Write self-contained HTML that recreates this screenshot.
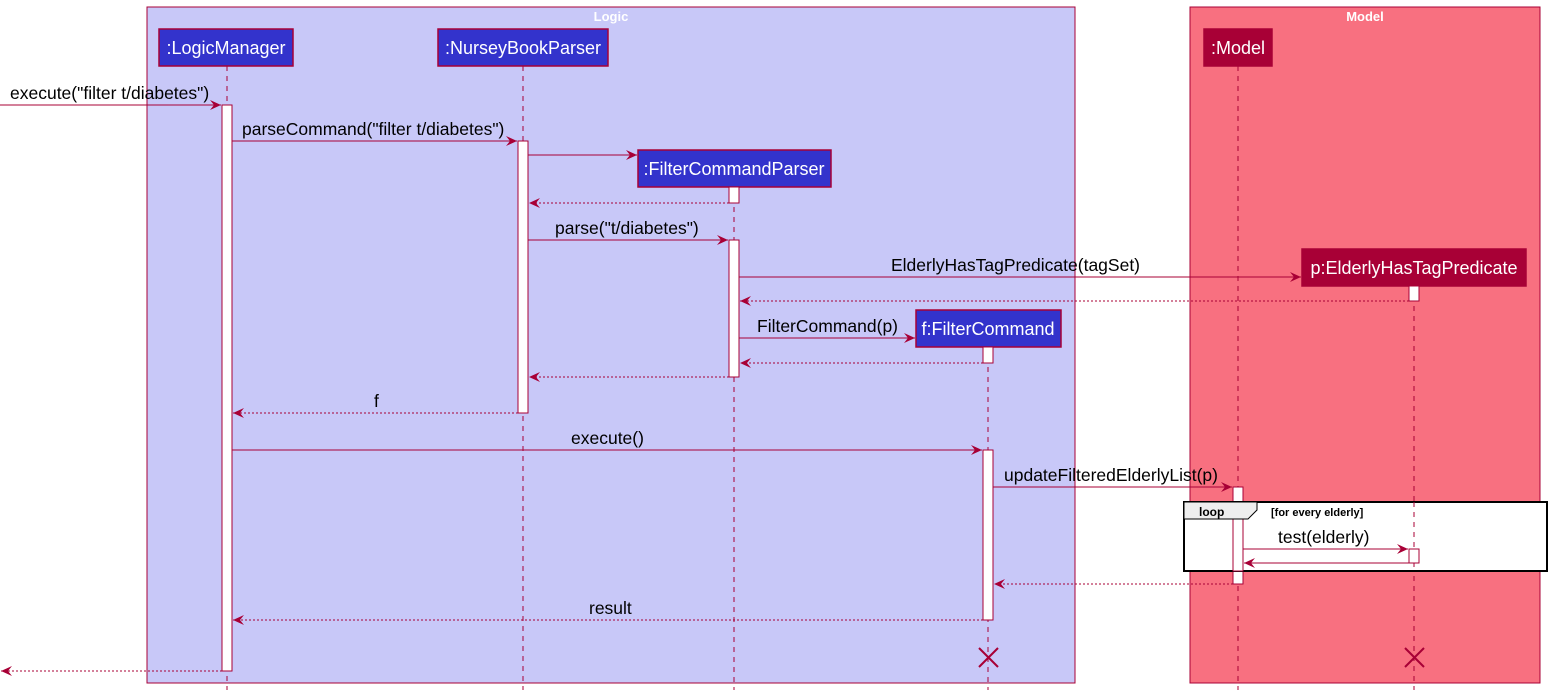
<!DOCTYPE html>
<html><head><meta charset="utf-8"><style>
html,body{margin:0;padding:0;background:#fff;}
svg{display:block;font-family:"Liberation Sans",sans-serif;}
</style></head><body>
<svg width="1551" height="695" viewBox="0 0 1551 695" xmlns="http://www.w3.org/2000/svg">
<defs>
<marker id="a" markerWidth="12" markerHeight="10" refX="11" refY="5" orient="auto" markerUnits="userSpaceOnUse">
<path d="M0,0 L11,5 L0,10 L4,5 Z" fill="#A80036"/>
</marker>
</defs>
<rect x="147" y="7" width="928" height="676" fill="#C8C8F8" stroke="#A80036" stroke-width="1"/>
<text x="611" y="21" fill="#fff" font-size="13" font-weight="bold" text-anchor="middle">Logic</text>
<rect x="1190" y="7" width="350" height="676" fill="#F87080" stroke="#A80036" stroke-width="1"/>
<text x="1365" y="21" fill="#fff" font-size="13" font-weight="bold" text-anchor="middle">Model</text>

<g stroke="#A80036" stroke-width="1" stroke-dasharray="5,5">
<line x1="227" y1="66" x2="227" y2="690"/>
<line x1="523" y1="66" x2="523" y2="690"/>
<line x1="734" y1="187" x2="734" y2="690"/>
<line x1="988" y1="347" x2="988" y2="690"/>
<line x1="1238" y1="66" x2="1238" y2="690"/>
<line x1="1414" y1="286" x2="1414" y2="690"/>
</g>

<g stroke="#A80036" stroke-width="1.5">
<rect x="159" y="29" width="134" height="37" fill="#3333CC"/>
<rect x="438" y="29" width="170" height="37" fill="#3333CC"/>
<rect x="638" y="150" width="193" height="37" fill="#3333CC"/>
<rect x="916" y="310" width="145" height="37" fill="#3333CC"/>
<rect x="1204" y="29" width="68" height="37" fill="#A80036"/>
<rect x="1302" y="249" width="224" height="37" fill="#A80036"/>
</g>
<g font-size="18" fill="#fff" text-anchor="middle">
<text x="226" y="54">:LogicManager</text>
<text x="523" y="54">:NurseyBookParser</text>
<text x="734" y="175">:FilterCommandParser</text>
<text x="988" y="335">f:FilterCommand</text>
<text x="1238" y="54">:Model</text>
<text x="1414" y="274">p:ElderlyHasTagPredicate</text>
</g>

<g fill="#fff" stroke="#A80036" stroke-width="1">
<rect x="222" y="105" width="10" height="566"/>
<rect x="518" y="141" width="10" height="272"/>
<rect x="729" y="187" width="10" height="16"/>
<rect x="729" y="240" width="10" height="137"/>
<rect x="1409" y="286" width="10" height="15"/>
<rect x="983" y="347" width="10" height="16"/>
<rect x="983" y="450" width="10" height="170"/>
<rect x="1233" y="487" width="10" height="97"/>
</g>

<rect x="1184" y="502" width="363" height="69" fill="#fff" stroke="#000" stroke-width="2"/>
<line x1="1238" y1="502" x2="1238" y2="571" stroke="#A80036" stroke-dasharray="5,5"/>
<line x1="1414" y1="502" x2="1414" y2="571" stroke="#A80036" stroke-dasharray="5,5"/>
<rect x="1233" y="502" width="10" height="69" fill="#fff" stroke="#A80036"/>
<path d="M1184,502 L1257,502 L1257,510 L1248,519 L1184,519 Z" fill="#EEEEEE" stroke="#000" stroke-width="1"/>
<text x="1199" y="516" font-size="12" font-weight="bold">loop</text>
<text x="1271" y="516" font-size="11" font-weight="bold">[for every elderly]</text>
<rect x="1409" y="549" width="10" height="14" fill="#fff" stroke="#A80036"/>

<g stroke="#A80036" stroke-width="1" fill="none" marker-end="url(#a)">
<line x1="0" y1="105" x2="221" y2="105"/>
<line x1="232" y1="141" x2="517" y2="141"/>
<line x1="528" y1="155" x2="637" y2="155"/>
<line x1="729" y1="203" x2="529" y2="203" stroke-dasharray="2,2"/>
<line x1="528" y1="240" x2="728" y2="240"/>
<line x1="739" y1="277" x2="1301" y2="277"/>
<line x1="1409" y1="301" x2="740" y2="301" stroke-dasharray="2,2"/>
<line x1="739" y1="338" x2="915" y2="338"/>
<line x1="983" y1="363" x2="740" y2="363" stroke-dasharray="2,2"/>
<line x1="729" y1="377" x2="529" y2="377" stroke-dasharray="2,2"/>
<line x1="518" y1="413" x2="233" y2="413" stroke-dasharray="2,2"/>
<line x1="232" y1="450" x2="982" y2="450"/>
<line x1="993" y1="487" x2="1232" y2="487"/>
<line x1="1243" y1="549" x2="1408" y2="549"/>
<line x1="1409" y1="563" x2="1244" y2="563"/>
<line x1="1233" y1="584" x2="994" y2="584" stroke-dasharray="2,2"/>
<line x1="983" y1="620" x2="233" y2="620" stroke-dasharray="2,2"/>
<line x1="222" y1="671" x2="1" y2="671" stroke-dasharray="2,2"/>
</g>

<g font-size="17.5" fill="#000">
<text x="10" y="99">execute("filter t/diabetes")</text>
<text x="242" y="135">parseCommand("filter t/diabetes")</text>
<text x="555" y="234">parse("t/diabetes")</text>
<text x="891" y="271">ElderlyHasTagPredicate(tagSet)</text>
<text x="757" y="332">FilterCommand(p)</text>
<text x="374" y="407">f</text>
<text x="571" y="444">execute()</text>
<text x="1004" y="481">updateFilteredElderlyList(p)</text>
<text x="1278" y="543">test(elderly)</text>
<text x="589" y="614">result</text>
</g>

<g stroke="#A80036" stroke-width="2">
<line x1="979" y1="648" x2="998" y2="667"/><line x1="998" y1="648" x2="979" y2="667"/>
<line x1="1405" y1="648" x2="1424" y2="667"/><line x1="1424" y1="648" x2="1405" y2="667"/>
</g>
</svg>
</body></html>
